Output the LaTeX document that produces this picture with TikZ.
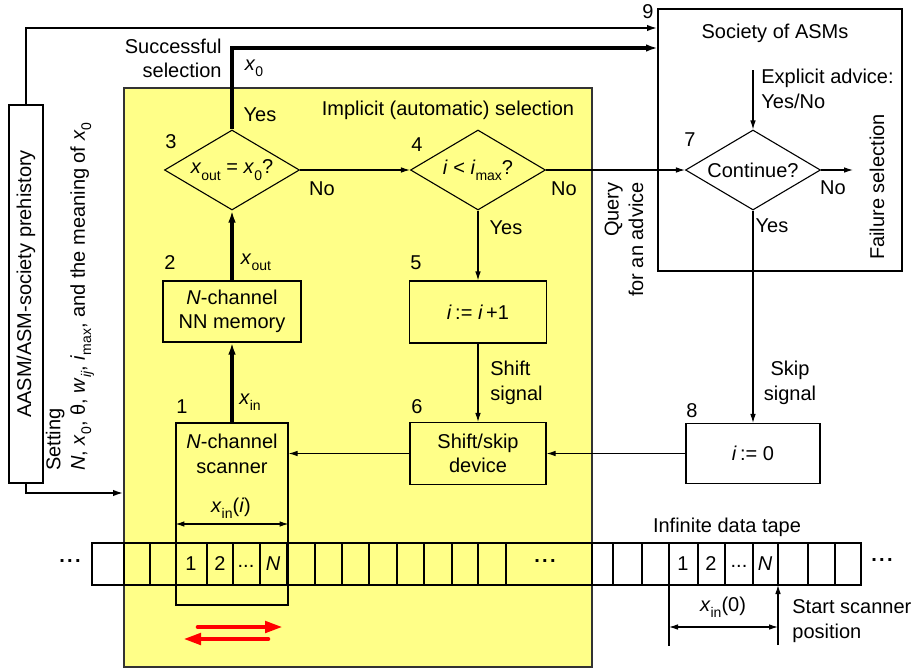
\documentclass[tikz,border=0pt]{standalone}
\usepackage{fontspec}
\setmainfont{Liberation Sans}
\usetikzlibrary{shapes.geometric,arrows.meta}
\definecolor{ylw}{RGB}{255,255,136}
\newcommand{\lowsub}[1]{\raisebox{-0.6ex}{\fontsize{7}{8}\selectfont #1}}
\begin{document}
\begin{tikzpicture}[x=0.5pt,y=-0.5pt,
  font=\fontsize{10}{12.2}\selectfont,
  box/.style={draw, line width=0.55pt, inner sep=0pt, align=center},
  dia/.style={draw, diamond, aspect=1.7, inner sep=0pt, line width=0.55pt,
              minimum width=67.5pt, minimum height=40pt},
  thinline/.style={line width=0.55pt},
  arr/.style={-{Latex[length=4.5pt,width=2.8pt]}, line width=0.55pt},
  dimarr/.style={{Latex[length=4.5pt,width=2.8pt]}-{Latex[length=4.5pt,width=2.8pt]}, line width=0.55pt},
  tharr/.style={-{Latex[length=6pt,width=3.8pt]}, line width=1.8pt},
  medarr/.style={-{Latex[length=5.5pt,width=3.2pt]}, line width=1.2pt},
  redarr/.style={red, line width=2.3pt, line cap=round, -{Triangle[length=9pt,width=5.5pt]}},
  lbl/.style={inner sep=0pt}]

\useasboundingbox (0,0) rectangle (916,669);

% implicit selection area
\fill[ylw] (124,88) rectangle (592,667);
\draw[black!80, line width=0.6pt] (124,88) rectangle (592,667);
\node[lbl] (implbl) at (448,110) {Implicit (automatic) selection};

% tape
\draw[thinline] (92,543) rectangle (861,585);
\foreach \xx in {124,150,176,207,233,260,287,315,342,369,397,424,452,478,506,592,613,642,669,698,725,753,778,808,835}
  \draw[thinline] (\xx,543) -- (\xx,585);
\node[lbl] at (191,564) {1};
\node[lbl] at (220,564) {2};
\node[lbl] at (246,566) {...};
\node[lbl] at (273,564) {\textit{N}};
\node[lbl] at (683,564) {1};
\node[lbl] at (711,564) {2};
\node[lbl] at (739,566) {...};
\node[lbl] at (765,564) {\textit{N}};
\node[lbl] at (70,561) {\textbf{.\hspace{1.2pt}.\hspace{1.2pt}.}};
\node[lbl] at (545,561) {\textbf{.\hspace{1.2pt}.\hspace{1.2pt}.}};
\node[lbl] at (882,560) {\textbf{.\hspace{1.2pt}.\hspace{1.2pt}.}};
\node[lbl] at (727,527) {Infinite data tape};

% boxes
\node[box, minimum width=56pt, minimum height=91pt] (scan) at (232,514) {};
\node[lbl, align=center] (scantxt) at (232,454) {\textit{N}-channel\\scanner};
\node[box, minimum width=69pt, minimum height=30.5pt] (mem) at (232,311.5) {\textit{N}-channel\\NN memory};
\node[dia] (d3) at (232,170) {\textit{x}\lowsub{out} = \textit{x}\lowsub{0}?};
\node[dia] (d4) at (478,170) {\textit{i} {<} \textit{i}\lowsub{max}?};
\node[box, minimum width=68.5pt, minimum height=31pt] (inc) at (478,312) {\textit{i}\,:= \textit{i}\,+1};
\node[box, minimum width=68pt, minimum height=31pt] (shift) at (478,453.5) {Shift/skip\\device};
\node[box, minimum width=67pt, minimum height=30pt, fill=white] (zero) at (753,453.5) {\textit{i}\,:= 0};
\node[box, minimum width=122pt, minimum height=131pt, fill=white] (soc) at (780,140) {};
\node[lbl] (soctxt) at (775,33) {Society of ASMs};
\node[dia, fill=white] (d7) at (753,170) {Continue?};
\node[box, minimum width=17pt, minimum height=189pt, fill=white] (pre) at (26,294) {};
\node[lbl, rotate=90] (pretxt) at (26,284) {AASM/ASM-society prehistory};

% numbers
\node[lbl] at (182,407) {1};
\node[lbl] at (170,263) {2};
\node[lbl] at (171,142) {3};
\node[lbl] at (417,145) {4};
\node[lbl] at (416,263) {5};
\node[lbl] at (417,407) {6};
\node[lbl] at (690,140) {7};
\node[lbl] at (692,411) {8};
\node[lbl] at (648,12) {9};

% coordinates
\coordinate (s48) at (658,48);
\coordinate (s28) at (658,28);
\coordinate (y493) at (124,493);
\coordinate (adv) at (753,70);
\coordinate (fail) at (853,170);

% connectors
\draw[tharr] (scan.north) -- (mem.south);
\draw[tharr] (mem.north) -- (d3.south);
\draw[tharr] (d3.north) |- (s48);
\draw[medarr] (pre.north) |- (s28);
\draw[medarr] (pre.south) |- (y493);
\draw[arr] (d3.east) -- (d4.west);
\draw[arr] (d4.east) -- (d7.west);
\draw[arr] (d4.south) -- (inc.north);
\draw[arr] (inc.south) -- (shift.north);
\draw[arr] (shift.west) -- (shift.west -| scan.east);
\draw[arr] (zero.west) -- (shift.east);
\draw[arr] (d7.south) -- (zero.north);
\draw[arr] (d7.east) -- (fail);
\draw[arr] (adv) -- (d7.north);

% dimension lines
\draw[dimarr] (scan.west |- 0,524) -- (scan.east |- 0,524);
\node[lbl] at (231,508) {\textit{x}\lowsub{in}(\textit{i})};
\draw[thinline] (669,585) -- (669,646);
\draw[arr] (778,645) -- (778,585);
\draw[dimarr] (669,627) -- (778,627);
\node[lbl] at (723,607) {\textit{x}\lowsub{in}(0)};
\node[lbl, anchor=west, align=left] at (792,621) {Start scanner\\position};

% red arrows
\draw[redarr] (198,627) -- (283,627);
\draw[redarr] (268,639) -- (183,639);

% labels
\node[lbl, anchor=east, align=right] at (222,58.5) {Successful\\selection};
\node[lbl] at (254,68) {\textit{x}\lowsub{0}};
\node[lbl] at (260,115) {Yes};
\node[lbl] at (322,189) {No};
\node[lbl] at (564,189) {No};
\node[lbl] at (506,228) {Yes};
\node[lbl] at (256,262) {\textit{x}\lowsub{out}};
\node[lbl] at (250,402) {\textit{x}\lowsub{in}};
\node[lbl, anchor=west, align=left] at (490,383) {Shift\\signal};
\node[lbl, align=center] at (790,383) {Skip\\signal};
\node[lbl, anchor=west, align=left] at (761,89) {Explicit advice:\\Yes/No};
\node[lbl] at (833,188) {No};
\node[lbl] at (772,226) {Yes};
\node[lbl, rotate=90] at (877,187) {Failure selection};
\node[lbl, rotate=90, anchor=east, align=right] at (624,182) {Query\\for an advice};
\node[lbl, rotate=90, anchor=west, align=left] at (70,471)
  {Setting\\\textit{N}, \textit{x}\lowsub{0}, θ, \textit{w}\lowsub{\textit{ij}}, \textit{i}\lowsub{max}, and the meaning of \textit{x}\lowsub{0}};
\end{tikzpicture}
\end{document}
